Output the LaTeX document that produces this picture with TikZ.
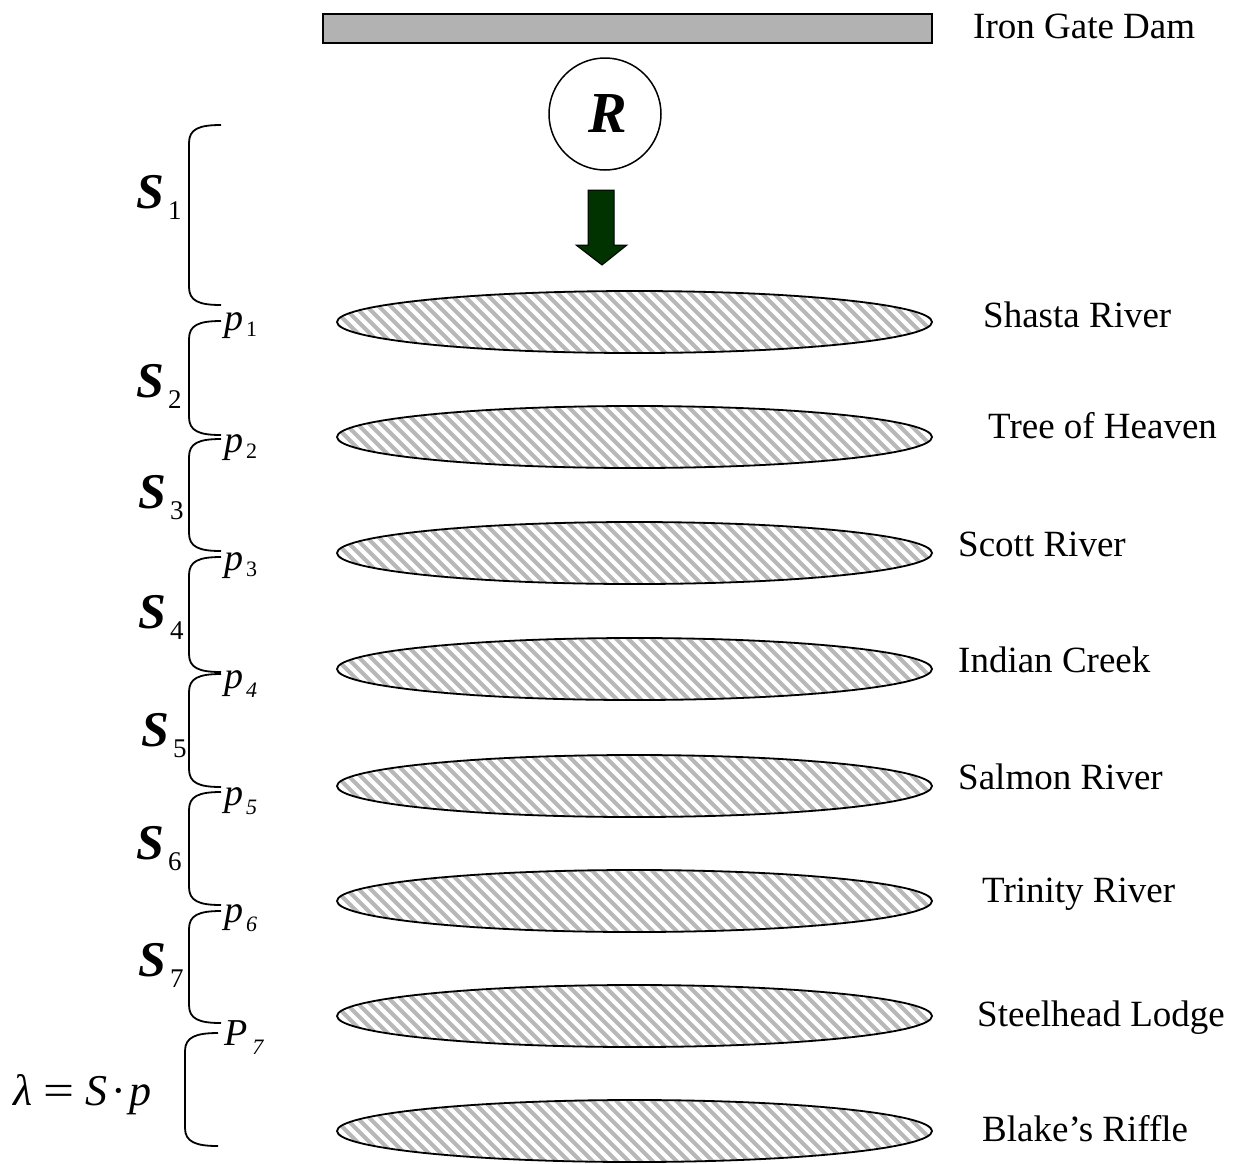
\documentclass[tikz,border=0pt]{standalone}
\usepackage{fontspec}
\setmainfont{Liberation Serif}
\usetikzlibrary{shapes.geometric}
\definecolor{dambar}{RGB}{178,178,178}
\definecolor{arrowgreen}{RGB}{0,51,0}
\definecolor{hatchgray}{RGB}{184,184,184}
\begin{document}
\begin{tikzpicture}[x=1pt,y=-1pt,
  lbl/.style={inner sep=0pt, anchor=base west, font=\fontsize{37}{40}\selectfont},
  slbl/.style={inner sep=0pt, anchor=base west, font=\fontsize{50}{54}\selectfont\bfseries\itshape},
  plbl/.style={inner sep=0pt, anchor=base west, font=\fontsize{38}{42}\selectfont\itshape},
  reach/.style={ellipse, draw, line width=1.8pt, minimum width=595pt, minimum height=62pt, inner sep=0pt,
    path picture={\foreach \k in {-30,...,30}{\draw[hatchgray, line width=4pt] ([xshift=\k*12pt]path picture bounding box.center) ++(-40,-40) -- ++(80,80);}}},
  bracepath/.style={line width=1.8pt},
]
\useasboundingbox (0,0) rectangle (1233,1163);

% dam
\node[draw, line width=2pt, fill=dambar, minimum width=609pt, minimum height=29pt, inner sep=0pt, anchor=north west] (dam) at (322,13) {};
\node[lbl] (damlbl) at (973,38) {Iron Gate Dam};

% release
\node[circle, draw, line width=1.5pt, minimum size=112pt, inner sep=0pt, font=\fontsize{58}{62}\selectfont\bfseries\itshape] (rel) at (605,114) {\hspace{6pt}R};
\draw[fill=arrowgreen, line width=1pt] (588,190) -- (614,190) -- (614,245) -- (627,245) -- (602,265) -- (576,245) -- (588,245) -- cycle;

% reaches
\foreach \cy/\nm in {322/r1,437/r2,553/r3,669/r4,786/r5,901/r6,1016/r7,1131/r8}{
  \node[reach] (\nm) at (634.5,\cy) {};
}

% site labels
\node[lbl] (l1) at (983,327) {Shasta River};
\node[lbl] (l2) at (988,438) {Tree of Heaven};
\node[lbl] (l3) at (958,556) {Scott River};
\node[lbl] (l4) at (958,672) {Indian Creek};
\node[lbl] (l5) at (958,789) {Salmon River};
\node[lbl] (l6) at (982,902) {Trinity River};
\node[lbl] (l7) at (977,1026) {Steelhead Lodge};
\node[lbl] (l8) at (982,1141) {Blake’s Riffle};

% braces
\foreach \t/\b in {125/305,321/435,439/551,557/672,674/787,792/905,911/1023}{
  \draw[bracepath] (221,\t) .. controls (199,\t) and (189,\t+4) .. (189,\t+18) -- (189,\b-18) .. controls (189,\b-4) and (199,\b) .. (221,\b);
}
\draw[bracepath] (218,1033) .. controls (196,1033) and (185,1037) .. (185,1051) -- (185,1128) .. controls (185,1142) and (196,1146) .. (218,1146);

% survival labels
\newcommand{\subsz}[1]{\raisebox{-11pt}{\fontsize{27}{29}\selectfont\mdseries\upshape #1}}
\node[slbl] (s1) at (136,208) {S\hspace{4pt}\subsz{1}};
\node[slbl] (s2) at (136,397) {S\hspace{4pt}\subsz{2}};
\node[slbl] (s3) at (138,508) {S\hspace{4pt}\subsz{3}};
\node[slbl] (s4) at (138,628) {S\hspace{4pt}\subsz{4}};
\node[slbl] (s5) at (141,746) {S\hspace{4pt}\subsz{5}};
\node[slbl] (s6) at (136,859) {S\hspace{4pt}\subsz{6}};
\node[slbl] (s7) at (138,976) {S\hspace{4pt}\subsz{7}};

% detection labels
\newcommand{\psubup}[1]{\raisebox{-6pt}{\fontsize{22}{24}\selectfont\upshape #1}}
\newcommand{\psubit}[1]{\raisebox{-9pt}{\fontsize{22}{24}\selectfont\itshape #1}}
\node[plbl] (p1) at (224,330) {p\hspace{3pt}\psubup{1}};
\node[plbl] (p2) at (224,452) {p\hspace{3pt}\psubup{2}};
\node[plbl] (p3) at (224,570) {p\hspace{3pt}\psubup{3}};
\node[plbl] (p4) at (224,688) {p\hspace{3pt}\psubit{4}};
\node[plbl] (p5) at (224,805) {p\hspace{3pt}\psubit{5}};
\node[plbl] (p6) at (224,922) {p\hspace{3pt}\psubit{6}};
\node[plbl] (p7) at (224,1045) {P\hspace{5pt}\psubit{7}};

% lambda
\node[inner sep=0pt, anchor=base west, font=\fontsize{44}{48}\selectfont] (lam) at (13,1105) {\textit{λ}\hspace{11pt}\scalebox{1.25}[1]{=}\hspace{11pt}\textit{S}\hspace{4pt}·\hspace{4pt}\textit{p}};
\end{tikzpicture}
\end{document}
